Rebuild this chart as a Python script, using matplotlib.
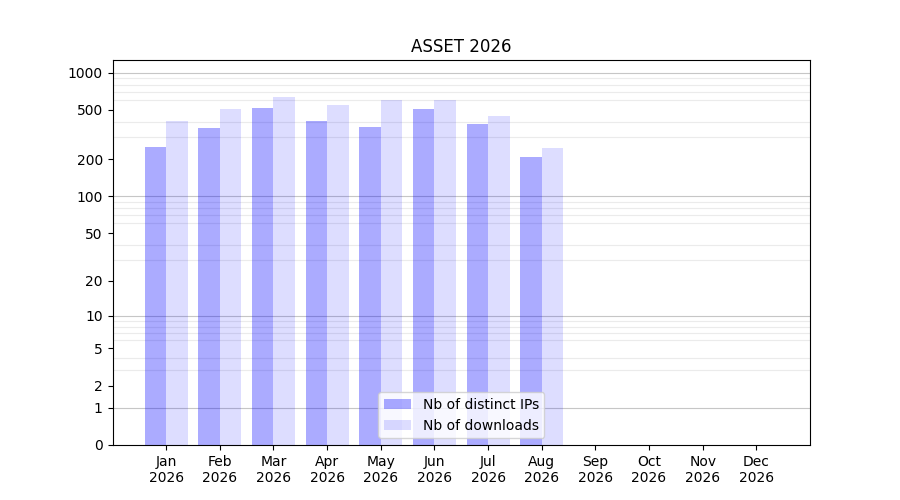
import numpy as np
import matplotlib
matplotlib.use("Agg")
import matplotlib.pyplot as plt
from matplotlib.ticker import FixedLocator, FixedFormatter

# ── data ──────────────────────────────────────────────────────────────────────
YEAR = 2026
MONTHS = ["Jan", "Feb", "Mar", "Apr", "May", "Jun",
          "Jul", "Aug", "Sep", "Oct", "Nov", "Dec"]
DISTINCT_IPS = [252, 359, 522, 409, 365, 512, 386, 208, 0, 0, 0, 0]
DOWNLOADS    = [409, 512, 642, 552, 606, 606, 449, 246, 0, 0, 0, 0]

Y_TICKS = [0, 1, 2, 5, 10, 20, 50, 100, 200, 500, 1000]


def fwd(v):
    return np.log10(1 + np.clip(v, 0, None))


def inv(v):
    return 10 ** v - 1


def main():
    fig, ax = plt.subplots(figsize=(9, 5), dpi=100)

    x = np.arange(len(MONTHS))
    w = 0.4
    ax.bar(x - w / 2, DISTINCT_IPS, width=w, color="blue", alpha=0.33,
           label="Nb of distinct IPs", zorder=2)
    ax.bar(x + w / 2, DOWNLOADS, width=w, color="blue", alpha=0.135,
           label="Nb of downloads", zorder=2)

    ax.set_yscale("function", functions=(fwd, inv))
    ax.set_ylim(0, 1265)
    ax.set_xlim(-1, 12)

    ax.yaxis.set_major_locator(FixedLocator(Y_TICKS))
    ax.yaxis.set_major_formatter(FixedFormatter([str(t) for t in Y_TICKS]))
    minor = [m * 10 ** d for d in range(0, 4) for m in range(1, 10)]
    ax.yaxis.set_minor_locator(FixedLocator(minor))
    ax.tick_params(axis="y", which="minor", length=0)
    ax.grid(which="minor", axis="y", color="#ebebeb", linewidth=0.8, zorder=0)
    for d in [1, 10, 100, 1000]:
        ax.axhline(d, color="#c6c6c6", linewidth=0.8, zorder=1)

    ax.set_xticks(x)
    ax.set_xticklabels([f"{m}\n{YEAR}" for m in MONTHS])
    ax.set_title(f"ASSET {YEAR}")
    ax.legend(loc="lower center")

    plt.savefig("out.png", dpi=100)


if __name__ == "__main__":
    main()
